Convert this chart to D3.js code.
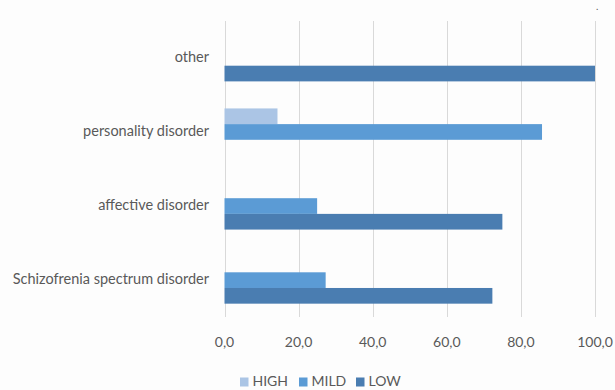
<!DOCTYPE html>
<html>
<head>
<meta charset="utf-8">
<script src="https://cdn.jsdelivr.net/npm/d3@7"></script>
<style>
  html, body { margin: 0; padding: 0; background: #fdfdfd; }
  svg { display: block; }
  text { font-family: Lato, "Open Sans", sans-serif; fill: #595959; }
</style>
</head>
<body>
<svg id="chart" width="615" height="390"></svg>
<script>
// Categories (top to bottom) and the three severity series, in %
const categories = ["other", "personality disorder", "affective disorder", "Schizofrenia spectrum disorder"];
const seriesNames = ["HIGH", "MILD", "LOW"];
const highValues = [0, 14.3, 0, 0];
const mildValues = [0, 85.7, 25.0, 27.3];
const lowValues  = [100.0, 0, 75.0, 72.3];
const tickValues = [0, 20, 40, 60, 80, 100];
const colors = ["#abc5e5", "#5b9bd5", "#4a7db1"];

const valuesBySeries = [highValues, mildValues, lowValues];
const rows = categories.map((c, i) => ({
  category: c,
  values: seriesNames.map((s, k) => ({ series: s, value: valuesBySeries[k][i] }))
}));

const svg = d3.select("#chart");
const margin = { left: 224.5, right: 20, top: 21, bottom: 73 };
const W = 615, H = 390;

const x = d3.scaleLinear().domain([0, 100]).range([margin.left, 595]);
const y0 = d3.scaleBand().domain(categories).range([margin.top, H - margin.bottom])
  .paddingInner(0.365).paddingOuter(0.18);
const y1 = d3.scaleBand().domain(seriesNames).range([0, y0.bandwidth()]);
const color = d3.scaleOrdinal().domain(seriesNames).range(colors);

// vertical gridlines
svg.append("g")
  .selectAll("line")
  .data(tickValues)
  .join("line")
  .attr("x1", d => Math.round(x(d)) + 0.5)
  .attr("x2", d => Math.round(x(d)) + 0.5)
  .attr("y1", margin.top)
  .attr("y2", H - margin.bottom)
  .attr("stroke", "#d9d9d9")
  .attr("stroke-width", 1);

// bars
const groups = svg.append("g")
  .selectAll("g")
  .data(rows)
  .join("g")
  .attr("transform", d => `translate(0,${y0(d.category)})`);

groups.selectAll("rect")
  .data(d => d.values.filter(v => v.value > 0))
  .join("rect")
  .attr("x", x(0))
  .attr("y", d => y1(d.series))
  .attr("width", d => x(d.value) - x(0))
  .attr("height", y1.bandwidth())
  .attr("fill", d => color(d.series));

// category labels
svg.append("g")
  .selectAll("text")
  .data(categories)
  .join("text")
  .attr("x", 209)
  .attr("y", d => y0(d) + y0.bandwidth() / 2)
  .attr("text-anchor", "end")
  .attr("dominant-baseline", "middle")
  .attr("font-size", 14.5)
  .text(d => d);

// x-axis tick labels
const fmt = v => d3.format(".1f")(v).replace(".", ",");
svg.append("g")
  .selectAll("text")
  .data(tickValues)
  .join("text")
  .attr("x", d => x(d))
  .attr("y", 343)
  .attr("text-anchor", "middle")
  .attr("dominant-baseline", "middle")
  .attr("font-size", 14)
  .text(fmt);

// legend
const legendX = [240, 299, 356];
const legend = svg.append("g")
  .selectAll("g")
  .data(seriesNames)
  .join("g")
  .attr("transform", (d, i) => `translate(${legendX[i]},382)`);
legend.append("rect")
  .attr("x", 0).attr("y", -4.5)
  .attr("width", 8.5).attr("height", 9)
  .attr("fill", d => color(d));
legend.append("text")
  .attr("x", 12.5)
  .attr("y", 0)
  .attr("dominant-baseline", "middle")
  .attr("font-size", 14)
  .text(d => d);

// small stray mark in the top-right corner
svg.append("text")
  .attr("x", 596).attr("y", 10)
  .attr("font-size", 10)
  .attr("fill", "#555")
  .text(".");
</script>
</body>
</html>
